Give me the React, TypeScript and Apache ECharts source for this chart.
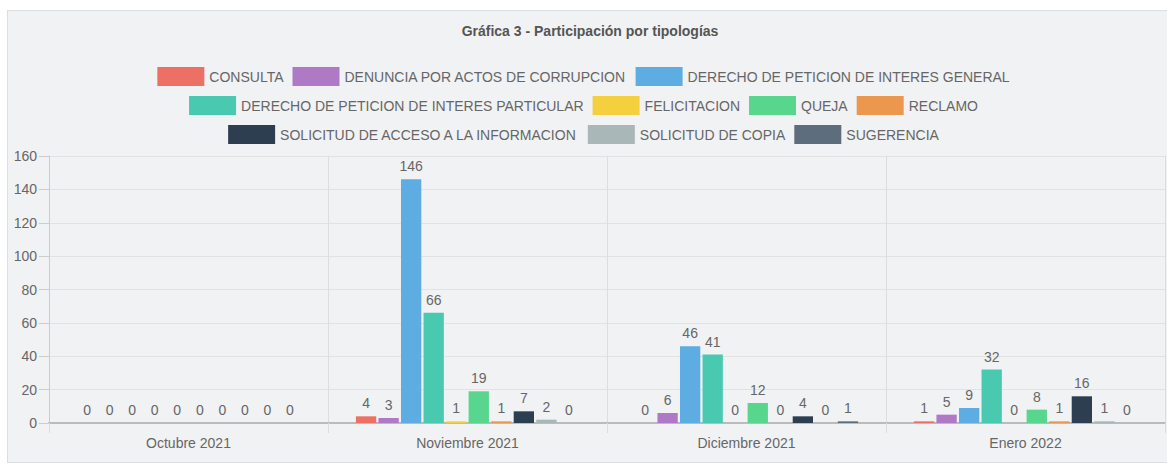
import React, { useEffect, useRef } from "react";
import * as echarts from "echarts";

const categories = ["Octubre 2021", "Noviembre 2021", "Diciembre 2021", "Enero 2022"];
const seriesNames = [
  "CONSULTA",
  "DENUNCIA POR ACTOS DE CORRUPCION",
  "DERECHO DE PETICION DE INTERES GENERAL",
  "DERECHO DE PETICION DE INTERES PARTICULAR",
  "FELICITACION",
  "QUEJA",
  "RECLAMO",
  "SOLICITUD DE ACCESO A LA INFORMACION",
  "SOLICITUD DE COPIA",
  "SUGERENCIA",
];
const consulta = [0, 4, 0, 1];
const denuncia = [0, 3, 6, 5];
const interesGeneral = [0, 146, 46, 9];
const interesParticular = [0, 66, 41, 32];
const felicitacion = [0, 1, 0, 0];
const queja = [0, 19, 12, 8];
const reclamo = [0, 1, 0, 1];
const accesoInformacion = [0, 7, 4, 16];
const solicitudCopia = [0, 2, 0, 1];
const sugerencia = [0, 0, 1, 0];
const seriesValues = [
  consulta, denuncia, interesGeneral, interesParticular, felicitacion,
  queja, reclamo, accesoInformacion, solicitudCopia, sugerencia,
];
const colors = [
  "#ec7063", "#af7ac5", "#5dade2", "#48c9b0", "#f4d03f",
  "#58d68d", "#eb984e", "#2c3e50", "#aab7b8", "#5d6d7e",
];
const legendRows = [
  seriesNames.slice(0, 3),
  seriesNames.slice(3, 7),
  seriesNames.slice(7, 10),
];
const yTicks = { min: 0, max: 160, interval: 20 };

const FONT = "'Liberation Sans', Arial, Helvetica, sans-serif";

export default function App() {
  const ref = useRef<HTMLDivElement>(null);
  useEffect(() => {
    if (!ref.current) return;
    const chart = echarts.init(ref.current, undefined, { renderer: "svg" });
    const legendTops = [62, 91, 120];
    chart.setOption({
      animation: false,
      color: colors,
      textStyle: { fontFamily: FONT },
      title: {
        text: "Gráfica 3 - Participación por tipologías",
        left: 585,
        textAlign: "center",
        top: 19,
        textStyle: { fontSize: 14, fontWeight: "bold", color: "#555", fontFamily: FONT },
      },
      legend: legendRows.map((row, i) => ({
        data: row,
        top: legendTops[i],
        left: "center",
        itemWidth: 47,
        itemHeight: 19,
        itemGap: 9,
        icon: "rect",
        selectedMode: false,
        textStyle: { fontSize: 14, color: "#666", fontFamily: FONT },
      })),
      grid: { left: 49, right: 2, top: 156, bottom: 41, containLabel: false },
      xAxis: {
        type: "category",
        data: categories,
        axisLine: { lineStyle: { color: "#bbbbbb", width: 2 } },
        axisTick: { show: true, length: 10, lineStyle: { color: "#dddddd" } },
        splitLine: { show: true, lineStyle: { color: "#dddddd" } },
        axisLabel: { color: "#666", fontSize: 14, margin: 13, fontFamily: FONT },
      },
      yAxis: {
        type: "value",
        min: yTicks.min,
        max: yTicks.max,
        interval: yTicks.interval,
        axisLine: { show: true, lineStyle: { color: "#cccccc" } },
        axisTick: { show: true, length: 10, lineStyle: { color: "#cccccc" } },
        splitLine: { show: true, lineStyle: { color: "#e2e2e2" } },
        axisLabel: { color: "#666", fontSize: 14, margin: 12, fontFamily: FONT },
      },
      series: seriesNames.map((name, i) => ({
        name,
        type: "bar",
        data: seriesValues[i],
        barCategoryGap: "20%",
        barGap: "11%",
        itemStyle: { color: colors[i] },
        label: {
          show: true,
          position: "top",
          distance: 6,
          color: "#666",
          fontSize: 14,
          fontFamily: FONT,
        },
      })),
    });
    return () => chart.dispose();
  }, []);

  return (
    <div style={{ position: "fixed", left: 0, top: 0, width: 1167, height: 464, background: "#ffffff", overflow: "hidden" }}>
      <div
        style={{
          position: "absolute",
          left: 7,
          top: 10,
          width: 1170,
          height: 451,
          background: "#f1f2f4",
          border: "1px solid #dcdee1",
        }}
      />
      <div ref={ref} style={{ position: "absolute", left: 0, top: 0, width: 1167, height: 464 }} />
    </div>
  );
}
